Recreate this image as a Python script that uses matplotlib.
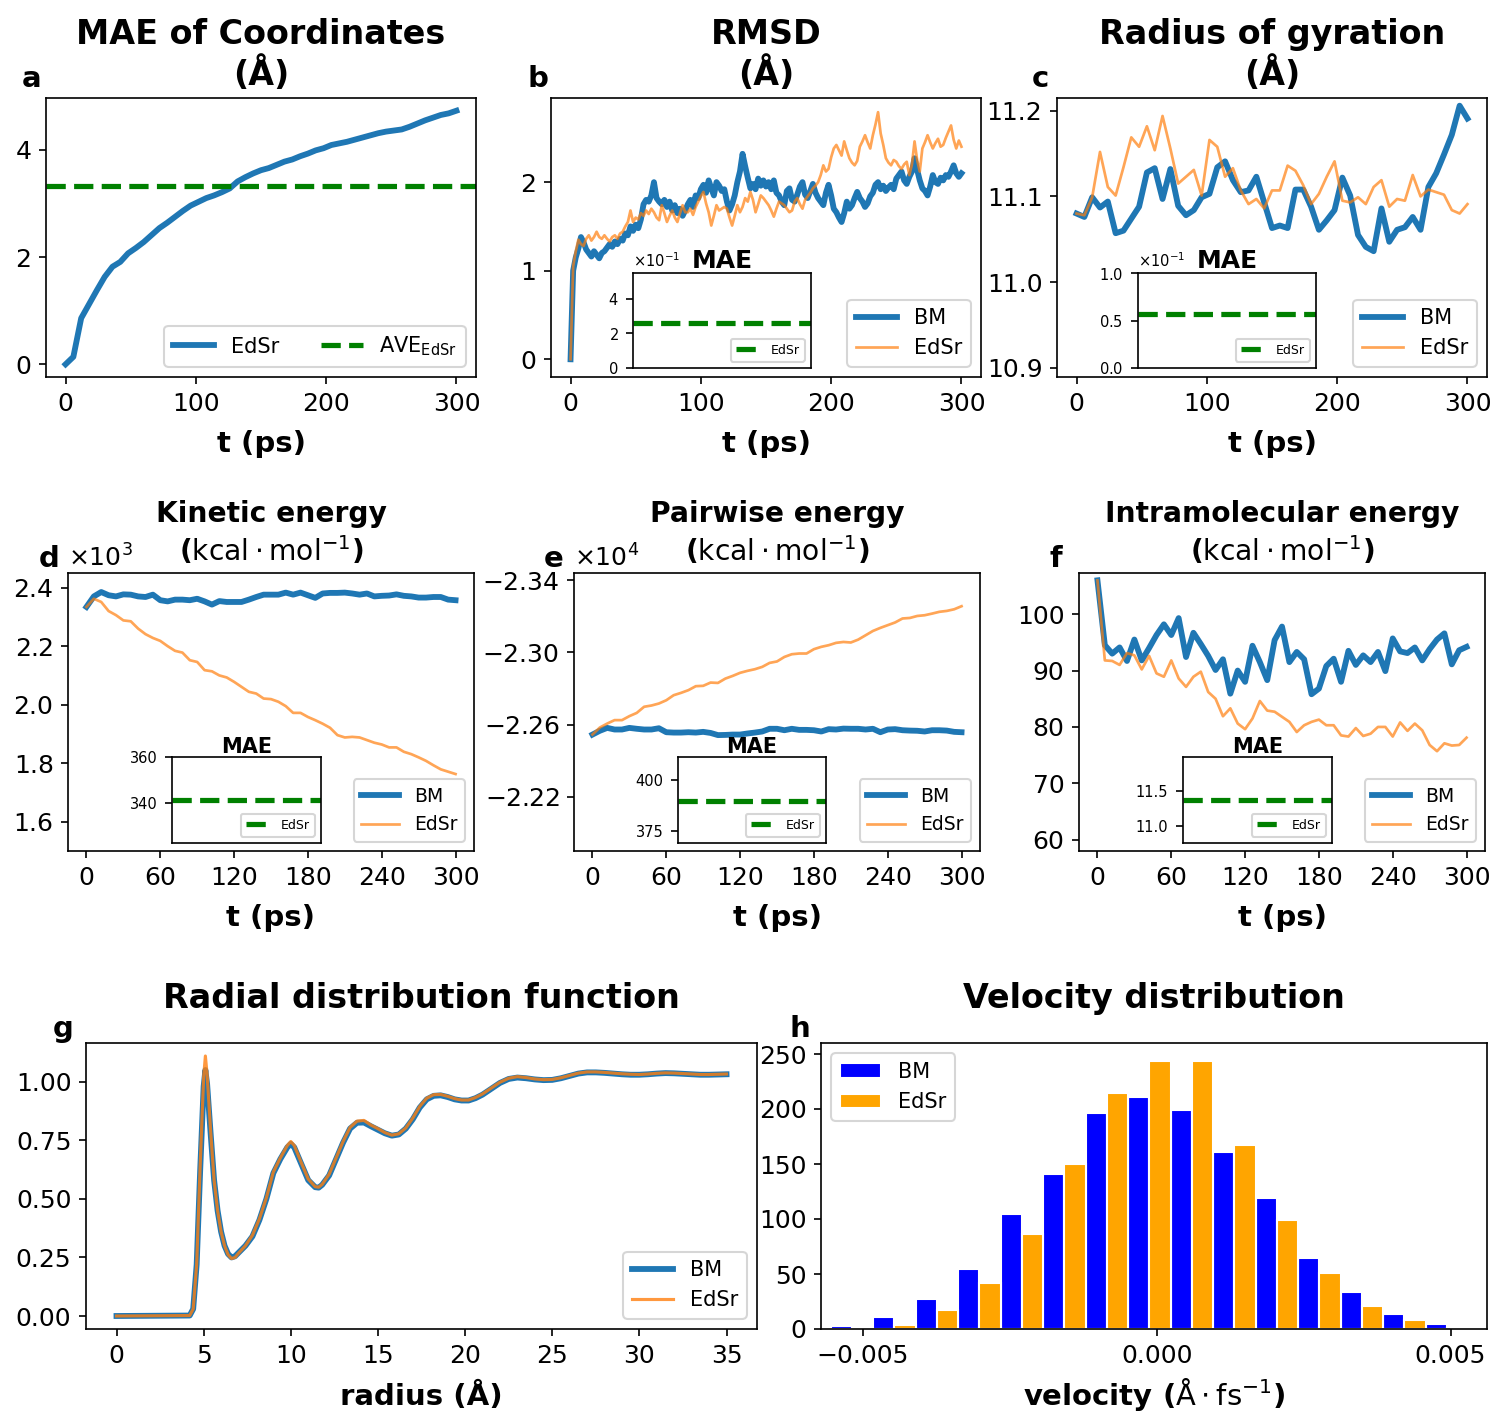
import matplotlib

matplotlib.use("Agg")
import matplotlib.pyplot as plt
import numpy as np

W, H, DPI = 1494, 1416, 150

# ── trajectories ─────────────────────────────────────────────────────────────
t_coarse = np.arange(0, 301, 6)  # ps, 51 frames
t_fine = np.arange(0, 301, 2)  # ps, 151 frames (RMSD)

# a: MAE of coordinates (Å)
mae_edsr = [
    0.00, 0.14, 0.86, 1.12, 1.38, 1.63, 1.82, 1.91, 2.07, 2.17,
    2.28, 2.41, 2.54, 2.64, 2.75, 2.86, 2.96, 3.03, 3.10, 3.15,
    3.21, 3.28, 3.41, 3.49, 3.56, 3.62, 3.66, 3.72, 3.78, 3.82,
    3.88, 3.93, 3.99, 4.03, 4.09, 4.12, 4.15, 4.19, 4.23, 4.27,
    4.31, 4.34, 4.36, 4.38, 4.43, 4.49, 4.55, 4.60, 4.65, 4.68,
    4.73,
]
ave_edsr = 3.33

# b: RMSD (Å)
rmsd_bm = [
    0.00, 1.00, 1.15, 1.25, 1.38, 1.32, 1.24, 1.20, 1.16, 1.22,
    1.18, 1.14, 1.20, 1.22, 1.26, 1.30, 1.27, 1.33, 1.30, 1.36,
    1.34, 1.42, 1.40, 1.50, 1.45, 1.52, 1.48, 1.58, 1.75, 1.80,
    1.78, 1.85, 2.00, 1.82, 1.78, 1.75, 1.80, 1.72, 1.78, 1.68,
    1.74, 1.65, 1.70, 1.62, 1.68, 1.75, 1.80, 1.72, 1.85, 1.82,
    1.92, 1.97, 1.88, 2.02, 1.93, 1.85, 2.00, 1.96, 1.90, 1.92,
    1.78, 1.68, 1.75, 1.85, 2.00, 2.12, 2.32, 2.18, 2.05, 1.93,
    1.98, 1.92, 2.04, 1.96, 2.02, 1.95, 2.00, 1.92, 2.02, 1.88,
    1.85, 1.78, 1.74, 1.90, 1.93, 1.80, 1.78, 1.86, 1.95, 2.00,
    1.86, 1.82, 1.90, 1.98, 1.88, 1.82, 1.78, 1.74, 1.88, 1.97,
    1.85, 1.70, 1.66, 1.60, 1.55, 1.65, 1.78, 1.70, 1.74, 1.82,
    1.89, 1.82, 1.78, 1.72, 1.76, 1.84, 1.88, 1.97, 2.00, 1.92,
    1.96, 1.90, 1.94, 1.97, 1.92, 2.04, 2.08, 2.12, 2.02, 1.98,
    2.06, 2.12, 2.27, 2.14, 2.02, 1.93, 1.90, 1.85, 1.95, 2.08,
    2.00, 1.98, 2.05, 2.02, 2.08, 2.06, 2.12, 2.19, 2.10, 2.06,
    2.10,
]
rmsd_edsr = [
    0.00, 1.05, 1.22, 1.35, 1.30, 1.28, 1.36, 1.40, 1.34, 1.38,
    1.44, 1.38, 1.36, 1.40, 1.36, 1.33, 1.38, 1.40, 1.36, 1.42,
    1.44, 1.50, 1.55, 1.68, 1.55, 1.60, 1.58, 1.65, 1.62, 1.68,
    1.64, 1.70, 1.66, 1.60, 1.57, 1.74, 1.65, 1.55, 1.62, 1.68,
    1.60, 1.55, 1.65, 1.74, 1.66, 1.66, 1.70, 1.63, 1.72, 1.78,
    1.84, 1.89, 1.76, 1.66, 1.51, 1.62, 1.74, 1.68, 1.70, 1.72,
    1.70, 1.60, 1.51, 1.62, 1.74, 1.66, 1.72, 1.82, 1.78, 1.89,
    1.80, 1.66, 1.75, 1.85, 1.82, 1.78, 1.74, 1.68, 1.61, 1.70,
    1.78, 1.76, 1.74, 1.70, 1.66, 1.68, 1.78, 1.82, 1.75, 1.70,
    1.80, 1.84, 1.88, 1.93, 1.96, 2.00, 2.08, 2.19, 2.12, 2.15,
    2.28, 2.38, 2.42, 2.36, 2.30, 2.46, 2.36, 2.27, 2.22, 2.19,
    2.24, 2.40, 2.46, 2.53, 2.45, 2.38, 2.53, 2.65, 2.79, 2.55,
    2.42, 2.27, 2.22, 2.19, 2.25, 2.23, 2.18, 2.15, 2.20, 2.23,
    2.08, 2.20, 2.46, 2.25, 2.12, 2.38, 2.45, 2.53, 2.45, 2.38,
    2.44, 2.49, 2.40, 2.42, 2.50, 2.57, 2.64, 2.48, 2.38, 2.47,
    2.40,
]
rmsd_mae = 0.258

# c: radius of gyration (Å)
rg_bm = [
    11.080, 11.076, 11.099, 11.087, 11.094, 11.057, 11.060, 11.074, 11.088, 11.128,
    11.133, 11.097, 11.132, 11.089, 11.078, 11.084, 11.099, 11.103, 11.134, 11.141,
    11.119, 11.105, 11.107, 11.123, 11.093, 11.063, 11.066, 11.063, 11.108, 11.108,
    11.088, 11.061, 11.072, 11.084, 11.122, 11.101, 11.055, 11.041, 11.036, 11.086,
    11.047, 11.061, 11.064, 11.076, 11.061, 11.111, 11.127, 11.149, 11.172, 11.206,
    11.191,
]
rg_edsr = [
    11.080, 11.078, 11.099, 11.152, 11.111, 11.101, 11.134, 11.169, 11.158, 11.182,
    11.154, 11.194, 11.156, 11.115, 11.123, 11.131, 11.101, 11.166, 11.158, 11.123,
    11.133, 11.107, 11.091, 11.097, 11.086, 11.107, 11.107, 11.136, 11.130, 11.113,
    11.091, 11.103, 11.123, 11.141, 11.095, 11.093, 11.099, 11.091, 11.111, 11.119,
    11.088, 11.097, 11.095, 11.125, 11.100, 11.108, 11.105, 11.102, 11.084, 11.080,
    11.091,
]
rg_mae = 0.0568

# d: kinetic energy (kcal/mol)
ke_bm = [
    2334, 2370, 2385, 2374, 2370, 2377, 2376, 2370, 2368, 2376,
    2357, 2353, 2359, 2359, 2357, 2362, 2353, 2342, 2354, 2351,
    2351, 2351, 2359, 2368, 2376, 2376, 2376, 2383, 2376, 2383,
    2374, 2365, 2380, 2382, 2382, 2383, 2380, 2376, 2380, 2370,
    2372, 2373, 2377, 2372, 2370, 2366, 2366, 2368, 2368, 2359,
    2357,
]
ke_edsr = [
    2334, 2362, 2351, 2320, 2306, 2288, 2285, 2260, 2241, 2228,
    2218, 2200, 2184, 2178, 2152, 2146, 2118, 2114, 2100, 2093,
    2078, 2061, 2044, 2038, 2021, 2019, 2010, 1995, 1972, 1972,
    1958, 1947, 1935, 1921, 1896, 1888, 1890, 1888, 1879, 1870,
    1864, 1854, 1854, 1839, 1831, 1820, 1808, 1793, 1779, 1771,
    1763,
]
ke_mae = 341.3

# e: pairwise energy (kcal/mol)
pe_bm = [
    -22545, -22566, -22582, -22573, -22573, -22582, -22577, -22573, -22573, -22580,
    -22558, -22556, -22556, -22558, -22556, -22560, -22554, -22542, -22543, -22545,
    -22545, -22551, -22556, -22562, -22577, -22577, -22569, -22577, -22571, -22571,
    -22569, -22562, -22575, -22573, -22578, -22577, -22577, -22573, -22577, -22558,
    -22573, -22575, -22569, -22567, -22566, -22562, -22569, -22569, -22567, -22560,
    -22558,
]
pe_edsr = [
    -22545, -22584, -22606, -22625, -22625, -22647, -22665, -22699, -22706, -22717,
    -22735, -22763, -22776, -22791, -22813, -22815, -22833, -22831, -22855, -22870,
    -22887, -22898, -22907, -22920, -22942, -22950, -22975, -22990, -22994, -22994,
    -23018, -23031, -23040, -23053, -23058, -23055, -23071, -23095, -23119, -23136,
    -23151, -23166, -23188, -23191, -23202, -23206, -23215, -23225, -23230, -23239,
    -23256,
]
pe_mae = 390.0

# f: intramolecular energy (kcal/mol)
ie_bm = [
    106.0, 94.5, 93.0, 94.1, 91.7, 95.5, 91.8, 94.0, 96.3, 98.2,
    96.3, 99.3, 92.4, 96.7, 94.7, 92.6, 90.1, 92.0, 85.9, 90.0,
    88.0, 94.4, 91.5, 88.3, 95.4, 97.8, 91.5, 93.3, 92.0, 85.8,
    86.8, 90.8, 92.1, 88.0, 93.5, 91.0, 92.7, 91.5, 93.3, 89.9,
    95.7, 93.4, 93.1, 94.1, 91.8, 93.8, 95.5, 96.6, 91.1, 93.6,
    94.2,
]
ie_edsr = [
    106.0, 91.8, 91.7, 91.0, 93.1, 92.7, 90.2, 92.6, 89.5, 88.9,
    91.8, 88.6, 87.1, 88.9, 89.8, 86.2, 85.0, 81.9, 83.3, 80.6,
    79.6, 81.5, 84.6, 82.9, 82.7, 81.8, 80.9, 79.1, 80.3, 80.9,
    81.3, 80.3, 80.3, 78.5, 78.3, 79.8, 78.4, 78.8, 80.0, 80.0,
    78.3, 80.8, 79.3, 80.6, 79.4, 76.8, 75.7, 77.1, 76.7, 76.8,
    78.1,
]
ie_mae = 11.38

# g: radial distribution function
rdf_r = [
    0.0, 4.2, 4.4, 4.6, 4.8, 5.0, 5.1, 5.2, 5.4, 5.6,
    5.8, 6.0, 6.2, 6.4, 6.6, 6.8, 7.0, 7.4, 7.8, 8.2,
    8.6, 9.0, 9.4, 9.8, 10.0, 10.2, 10.6, 11.0, 11.4, 11.6,
    11.8, 12.2, 12.6, 13.0, 13.4, 13.8, 14.2, 14.6, 15.0, 15.4,
    15.8, 16.2, 16.6, 17.0, 17.4, 17.8, 18.2, 18.6, 19.0, 19.4,
    19.8, 20.2, 20.6, 21.0, 21.5, 22.0, 22.5, 23.0, 23.5, 24.0,
    24.5, 25.0, 25.5, 26.0, 26.5, 27.0, 27.5, 28.0, 28.5, 29.0,
    29.5, 30.0, 30.5, 31.0, 31.5, 32.0, 32.5, 33.0, 33.5, 34.0,
    34.5, 35.0,
]
rdf_bm = [
    0.000, 0.002, 0.03, 0.22, 0.62, 0.98, 1.05, 0.99, 0.78, 0.58,
    0.45, 0.36, 0.30, 0.265, 0.25, 0.255, 0.27, 0.30, 0.34, 0.41,
    0.50, 0.61, 0.67, 0.72, 0.735, 0.72, 0.65, 0.58, 0.55, 0.548,
    0.56, 0.60, 0.67, 0.74, 0.80, 0.825, 0.826, 0.81, 0.795, 0.78,
    0.77, 0.775, 0.80, 0.84, 0.89, 0.925, 0.94, 0.942, 0.935, 0.925,
    0.92, 0.92, 0.93, 0.945, 0.97, 0.995, 1.012, 1.018, 1.015, 1.01,
    1.007, 1.008, 1.015, 1.025, 1.035, 1.04, 1.04, 1.038, 1.035, 1.032,
    1.03, 1.03, 1.032, 1.035, 1.037, 1.036, 1.034, 1.032, 1.03, 1.03,
    1.031, 1.032,
]
rdf_edsr = [
    0.000, 0.002, 0.03, 0.22, 0.64, 1.02, 1.11, 1.03, 0.79, 0.58,
    0.45, 0.36, 0.30, 0.262, 0.245, 0.25, 0.268, 0.30, 0.345, 0.415,
    0.505, 0.615, 0.675, 0.728, 0.745, 0.728, 0.655, 0.585, 0.552, 0.55,
    0.562, 0.605, 0.675, 0.745, 0.805, 0.832, 0.835, 0.815, 0.80, 0.783,
    0.772, 0.778, 0.803, 0.845, 0.895, 0.93, 0.945, 0.946, 0.938, 0.928,
    0.922, 0.922, 0.933, 0.948, 0.973, 0.998, 1.015, 1.022, 1.018, 1.012,
    1.009, 1.01, 1.017, 1.027, 1.037, 1.042, 1.042, 1.04, 1.037, 1.034,
    1.032, 1.031, 1.033, 1.036, 1.038, 1.037, 1.035, 1.033, 1.031, 1.031,
    1.032, 1.033,
]

# h: velocity histogram (counts per bin)
vel_edges = np.linspace(-0.005547, 0.005299, 16)
vel_bm = [3, 11, 27, 55, 105, 141, 196, 211, 199, 161, 119, 65, 34, 14, 5]
vel_edsr = [0, 4, 17, 42, 86, 150, 215, 244, 244, 167, 99, 51, 21, 8, 1]

# ── style ────────────────────────────────────────────────────────────────────
C_BM = "tab:blue"
C_ED = "tab:orange"
LW_BM = 2.8
LW_ED = 1.3
FS_TICK = 12
FS_LAB = 14
FS_LEG = 10
LABELPAD = 7
ENERGY_UNIT = r"($\mathrm{kcal \cdot mol^{-1}}$)"

plt.rcParams["xtick.labelsize"] = FS_TICK
plt.rcParams["ytick.labelsize"] = FS_TICK

fig = plt.figure(figsize=(W / DPI, H / DPI), dpi=DPI)


def box(x0, y0, x1, y1):
    # pixel box (top-left origin) -> figure fraction rect
    return [x0 / W, 1 - y1 / H, (x1 - x0) / W, (y1 - y0) / H]


def letter(x, y, s):
    fig.text(x / W, 1 - y / H, s, fontsize=14, fontweight="bold",
             ha="left", va="baseline")


def mae_inset(rect, value, ylim, yticks, title_size, sci=False):
    ins = fig.add_axes(box(*rect))
    ins.axhline(value, color="green", ls="--", lw=2.5, label="EdSr")
    ins.set_ylim(*ylim)
    ins.set_yticks(yticks)
    ins.set_xticks([])
    ins.tick_params(axis="y", labelsize=7)
    if sci:
        ins.ticklabel_format(axis="y", style="sci", scilimits=(0, 0), useMathText=True)
        ins.yaxis.get_offset_text().set_fontsize(7)
    ins.set_title("MAE", fontsize=title_size, fontweight="bold", pad=1)
    ins.legend(loc="lower right", fontsize=6)
    return ins


def pair_lines(ax, t, bm, edsr, leg_size=FS_LEG):
    ax.plot(t, bm, color=C_BM, lw=LW_BM, label="BM")
    ax.plot(t, edsr, color=C_ED, lw=LW_ED, alpha=0.7, label="EdSr")
    ax.legend(loc="lower right", fontsize=leg_size)


def t_label(ax):
    ax.set_xlabel("t (ps)", fontsize=FS_LAB, fontweight="bold", labelpad=LABELPAD)


# ── a: MAE of coordinates ────────────────────────────────────────────────────
ax = fig.add_axes(box(46, 98, 476, 377))
ax.plot(t_coarse, mae_edsr, color=C_BM, lw=LW_BM, label="EdSr")
ax.axhline(ave_edsr, color="green", ls="--", lw=2.5, label=r"AVE$_{\mathrm{EdSr}}$")
ax.set_xticks([0, 100, 200, 300])
ax.set_yticks([0, 2, 4])
ax.set_title("MAE of Coordinates\n(Å)", fontsize=16, fontweight="bold")
t_label(ax)
ax.legend(loc="lower right", ncol=2, fontsize=FS_LEG)
letter(22, 87, "a")

# ── b: RMSD ──────────────────────────────────────────────────────────────────
ax = fig.add_axes(box(551, 98, 981, 377))
pair_lines(ax, t_fine, rmsd_bm, rmsd_edsr)
ax.set_ylim(-0.2, 2.95)
ax.set_xticks([0, 100, 200, 300])
ax.set_yticks([0, 1, 2])
ax.set_title("RMSD\n(Å)", fontsize=16, fontweight="bold")
t_label(ax)
mae_inset((633, 273, 811, 368), rmsd_mae, (0, 0.55), [0, 0.2, 0.4], 12, sci=True)
letter(527, 87, "b")

# ── c: radius of gyration ────────────────────────────────────────────────────
ax = fig.add_axes(box(1057, 98, 1487, 377))
pair_lines(ax, t_coarse, rg_bm, rg_edsr)
ax.set_ylim(10.889, 11.215)
ax.set_xticks([0, 100, 200, 300])
ax.set_yticks([10.9, 11.0, 11.1, 11.2])
ax.set_title("Radius of gyration\n(Å)", fontsize=16, fontweight="bold")
t_label(ax)
mae_inset((1138, 273, 1316, 368), rg_mae, (0, 0.1), [0, 0.05, 0.1], 12, sci=True)
letter(1032, 87, "c")

# ── d: kinetic energy ────────────────────────────────────────────────────────
row2_xticks = [0, 60, 120, 180, 240, 300]
ax = fig.add_axes(box(68, 573, 474, 851))
pair_lines(ax, t_coarse, ke_bm, ke_edsr, leg_size=9)
ax.set_ylim(1500, 2450)
ax.set_xticks(row2_xticks)
ax.set_yticks([1600, 1800, 2000, 2200, 2400])
ax.ticklabel_format(axis="y", style="sci", scilimits=(0, 0), useMathText=True)
ax.set_title("Kinetic energy\n" + ENERGY_UNIT, fontsize=13.5, fontweight="bold")
t_label(ax)
mae_inset((172, 757, 321, 843), ke_mae, (322.7, 360.2), [340, 360], 10)
letter(39, 567, "d")

# ── e: pairwise energy (axis runs downward) ──────────────────────────────────
ax = fig.add_axes(box(574, 573, 980, 851))
pair_lines(ax, t_coarse, pe_bm, pe_edsr, leg_size=9)
ax.set_ylim(-21900, -23440)
ax.set_xticks(row2_xticks)
ax.set_yticks([-23400, -23000, -22600, -22200])
ax.ticklabel_format(axis="y", style="sci", scilimits=(0, 0), useMathText=True)
ax.set_title("Pairwise energy\n" + ENERGY_UNIT, fontsize=13.5, fontweight="bold")
t_label(ax)
mae_inset((678, 757, 826, 843), pe_mae, (369, 411.5), [375, 400], 10)
letter(544, 567, "e")

# ── f: intramolecular energy ─────────────────────────────────────────────────
ax = fig.add_axes(box(1079, 573, 1485, 851))
pair_lines(ax, t_coarse, ie_bm, ie_edsr, leg_size=9)
ax.set_ylim(58, 107.3)
ax.set_xticks(row2_xticks)
ax.set_yticks([60, 70, 80, 90, 100])
ax.set_title("Intramolecular energy\n" + ENERGY_UNIT, fontsize=13.5, fontweight="bold")
t_label(ax)
mae_inset((1183, 757, 1332, 843), ie_mae, (10.76, 11.99), [11.0, 11.5], 10)
letter(1050, 567, "f")

# ── g: radial distribution function ──────────────────────────────────────────
ax = fig.add_axes(box(86, 1043, 757, 1329))
ax.plot(rdf_r, rdf_bm, color=C_BM, lw=LW_BM, label="BM")
ax.plot(rdf_r, rdf_edsr, color=C_ED, lw=1.5, alpha=0.8, label="EdSr")
ax.set_xticks(range(0, 36, 5))
ax.set_yticks([0, 0.25, 0.5, 0.75, 1.0])
ax.set_title("Radial distribution function", fontsize=16, fontweight="bold", pad=17)
ax.set_xlabel("radius (Å)", fontsize=FS_LAB, fontweight="bold", labelpad=LABELPAD)
ax.legend(loc="lower right", fontsize=FS_LEG)
letter(53, 1037, "g")

# ── h: velocity distribution ─────────────────────────────────────────────────
ax = fig.add_axes(box(821, 1043, 1487, 1329))
centers = 0.5 * (vel_edges[:-1] + vel_edges[1:])
ax.hist([centers, centers], bins=vel_edges, weights=[vel_bm, vel_edsr],
        color=["blue", "orange"], label=["BM", "EdSr"], rwidth=1.0,
        edgecolor="white", linewidth=1.0)
ax.set_xlim(-0.00571, 0.00562)
ax.set_ylim(0, 260)
ax.set_xticks([-0.005, 0.0, 0.005])
ax.set_yticks(range(0, 251, 50))
ax.set_title("Velocity distribution", fontsize=16, fontweight="bold", pad=17)
ax.set_xlabel(r"velocity ($\mathrm{\AA \cdot fs^{-1}}$)", fontsize=FS_LAB,
              fontweight="bold", labelpad=4)
ax.legend(loc="upper left", fontsize=FS_LEG)
letter(789, 1037, "h")

fig.savefig("out.png", dpi=DPI)
